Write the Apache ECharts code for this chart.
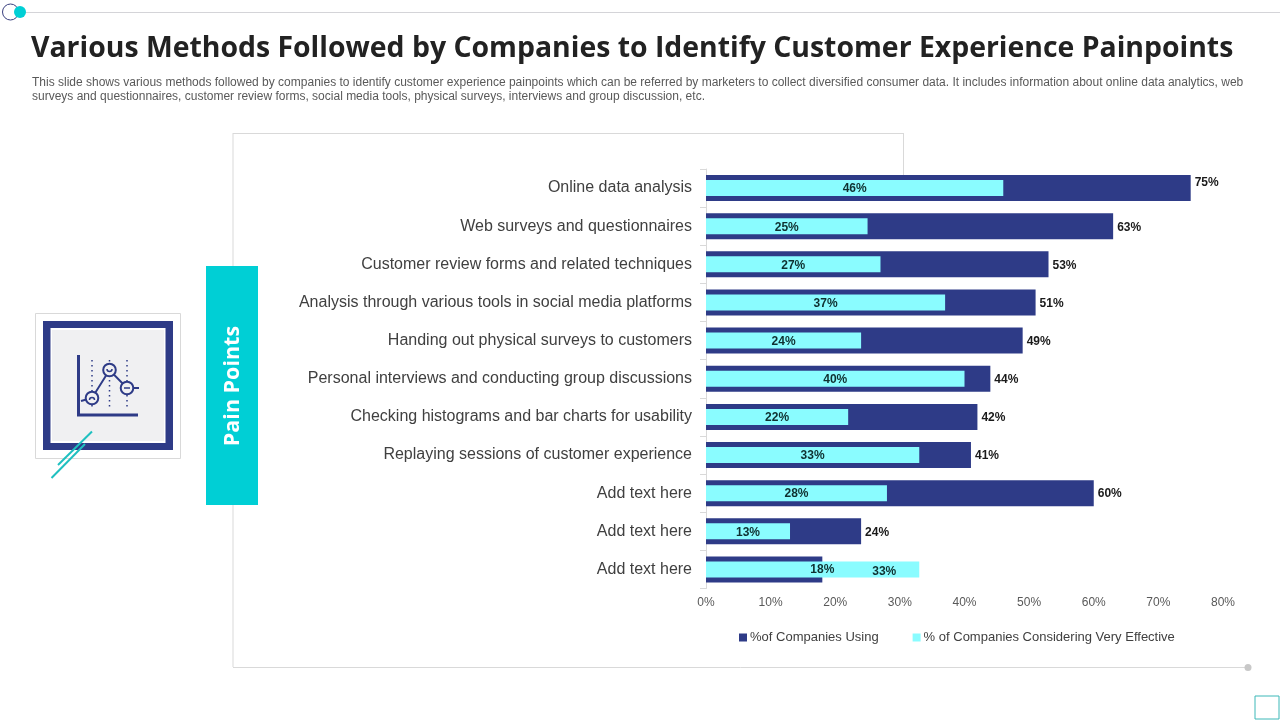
<!DOCTYPE html>
<html>
<head>
<meta charset="utf-8">
<style>html,body{margin:0;padding:0;background:#fff}#c{width:1280px;height:720px}</style>
<script src="https://cdn.jsdelivr.net/npm/echarts@6/dist/echarts.min.js"></script>
</head>
<body>
<div id="c"></div>
<script>
const titleText = 'Various Methods Followed by Companies to Identify Customer Experience Painpoints';
const descLine1 = 'This slide shows various methods followed by companies to identify customer experience painpoints which can be referred by marketers to collect diversified consumer data. It includes information about online data analytics, web';
const descLine2 = 'surveys and questionnaires, customer review forms, social media tools, physical surveys, interviews and group discussion, etc.';
const categories = ['Online data analysis','Web surveys and questionnaires','Customer review forms and related techniques','Analysis through various tools in social media platforms','Handing out physical surveys to customers','Personal interviews and conducting group discussions','Checking histograms and bar charts for usability','Replaying sessions of customer experience','Add text here','Add text here','Add text here'];
const companiesUsing = [75,63,53,51,49,44,42,41,60,24,18];
const veryEffective = [46,25,27,37,24,40,22,33,28,13,33];
const seriesNames = ['%of Companies Using','% of Companies Considering Very Effective'];
const sideLabel = 'Pain Points';

const NAVY='#2e3b87', CYAN='#8afcff', TEAL='#00cfd5', LINE='#d9d9d9';
const sans='"Liberation Sans", Arial, sans-serif';
const fmt=p=>p.value+'%';

const navyData=companiesUsing.map((v,i)=>{
  if(i===0) return {value:v,label:{offset:[0,-5]}};
  if(i===companiesUsing.length-1) return {value:v,label:{offset:[-16,0],color:'#0f3030'}};
  return {value:v};
});
const cyanData=veryEffective.map((v,i)=> i===veryEffective.length-1
  ? {value:v,label:{position:'insideRight',offset:[-18,2]}} : {value:v});

const ln=(x1,y1,x2,y2,stroke,lineWidth,extra)=>({type:'line',silent:true,shape:{x1,y1,x2,y2},style:Object.assign({stroke,lineWidth},extra||{})});
const graphics=[
  ln(20,12.5,1280,12.5,'#d4d4d8',1),
  {type:'circle',shape:{cx:10.5,cy:12,r:8},style:{fill:'#fff',stroke:'#3a4080',lineWidth:1}},
  {type:'circle',shape:{cx:20,cy:12,r:6},style:{fill:TEAL}},
  {type:'text',style:{x:32,y:83,text:descLine1,font:'12px '+sans,fill:'#595959',verticalAlign:'middle'}},
  {type:'text',style:{x:32,y:97,text:descLine2,font:'12px '+sans,fill:'#595959',verticalAlign:'middle'}},
  // panel outline
  ln(233,133,233,667,LINE,1),
  ln(233,133.5,903,133.5,LINE,1),
  ln(903.5,133,903.5,175,LINE,1),
  ln(233,667.5,1248,667.5,LINE,1),
  {type:'circle',shape:{cx:1248,cy:667.5,r:3.5},style:{fill:'#c8c8c8'}},
  {type:'rect',shape:{x:1255,y:696,width:24,height:23},style:{fill:'#fff',stroke:'#3cb8b8',lineWidth:1}},
  // side band
  {type:'rect',shape:{x:206,y:266,width:52,height:239},style:{fill:TEAL}},
  {type:'text',x:233,y:386,rotation:Math.PI/2,style:{text:sideLabel,font:'bold 21.5px "Open Sans", sans-serif',fill:'#fff',align:'center',verticalAlign:'middle'}},
  // icon
  {type:'rect',shape:{x:35.5,y:313.5,width:145,height:145},style:{fill:'#fff',stroke:'#d9d9d9',lineWidth:1}},
  {type:'rect',shape:{x:43,y:321,width:130,height:129},style:{fill:NAVY}},
  {type:'rect',shape:{x:50.5,y:328,width:115,height:115},style:{fill:'#fff'}},
  {type:'rect',shape:{x:52,y:330,width:112,height:111},style:{fill:'#f0f0f2'}},
  ln(78.5,355,78.5,416,NAVY,3),
  ln(77,415,138,415,NAVY,3),
  ln(92,360,92,408,NAVY,1.5,{lineDash:[1.5,3.5]}),
  ln(109.5,360,109.5,408,NAVY,1.5,{lineDash:[1.5,3.5]}),
  ln(127,360,127,408,NAVY,1.5,{lineDash:[1.5,3.5]}),
  {type:'polyline',shape:{points:[[81,401],[92,398],[109.5,370],[127,388],[139,388]]},style:{fill:'none',stroke:NAVY,lineWidth:2}},
  {type:'circle',shape:{cx:92,cy:398,r:6.3},style:{fill:'#f0f0f2',stroke:NAVY,lineWidth:2}},
  {type:'circle',shape:{cx:109.5,cy:370,r:6.3},style:{fill:'#f0f0f2',stroke:NAVY,lineWidth:2}},
  {type:'circle',shape:{cx:127,cy:388,r:6.3},style:{fill:'#f0f0f2',stroke:NAVY,lineWidth:2}},
  {type:'arc',shape:{cx:92,cy:400,r:2.5,startAngle:Math.PI,endAngle:2*Math.PI},style:{fill:'none',stroke:NAVY,lineWidth:1.5}},
  {type:'arc',shape:{cx:109.5,cy:369,r:2.5,startAngle:0,endAngle:Math.PI},style:{fill:'none',stroke:NAVY,lineWidth:1.5}},
  ln(124,388,130,388,NAVY,1.5),
  ln(92,431.5,58,465,'#1fc0c0',2),
  ln(85,444,51.5,478,'#1fc0c0',2)
];

const chart=echarts.init(document.getElementById('c'),null,{renderer:'canvas'});
chart.setOption({
  animation:false,
  backgroundColor:'#fff',
  title:{text:titleText,left:26,top:30,textStyle:{fontFamily:'"Open Sans", sans-serif',fontWeight:'bold',fontSize:28.4,color:'#222222'}},
  graphic:{elements:graphics},
  grid:{left:706,top:169,width:517,height:419.5,containLabel:false},
  legend:{
    left:734,top:626,itemWidth:8,itemHeight:8,itemGap:34,icon:'rect',
    textStyle:{fontFamily:sans,fontSize:13,color:'#404040',padding:[0,0,0,-2]},
    data:seriesNames
  },
  xAxis:{type:'value',min:0,max:80,interval:10,
    axisLine:{show:false},axisTick:{show:false},splitLine:{show:false},
    axisLabel:{formatter:'{value}%',fontFamily:sans,fontSize:12,color:'#595959',margin:8}},
  yAxis:[
    {type:'category',inverse:true,data:categories,
      axisLine:{show:true,lineStyle:{color:'#d9d9d9'}},
      axisTick:{show:true,length:6,lineStyle:{color:'#d9d9d9'}},
      axisLabel:{fontFamily:sans,fontSize:16,color:'#404040',margin:14}},
    {type:'category',inverse:true,data:categories,position:'left',
      axisLine:{show:false},axisTick:{show:false},axisLabel:{show:false}}
  ],
  series:[
    {name:seriesNames[0],type:'bar',yAxisIndex:0,barWidth:26,data:navyData,itemStyle:{color:NAVY},z:3,
      label:{show:true,position:'right',distance:4,offset:[0,1],formatter:fmt,fontFamily:sans,fontWeight:'bold',fontSize:12,color:'#1a1a1a'}},
    {name:seriesNames[1],type:'bar',yAxisIndex:1,barWidth:16,data:cyanData,itemStyle:{color:CYAN},z:3,
      label:{show:true,position:'inside',offset:[0,1],formatter:fmt,fontFamily:sans,fontWeight:'bold',fontSize:12,color:'#0f3030'}}
  ]
});
</script>
</body>
</html>
